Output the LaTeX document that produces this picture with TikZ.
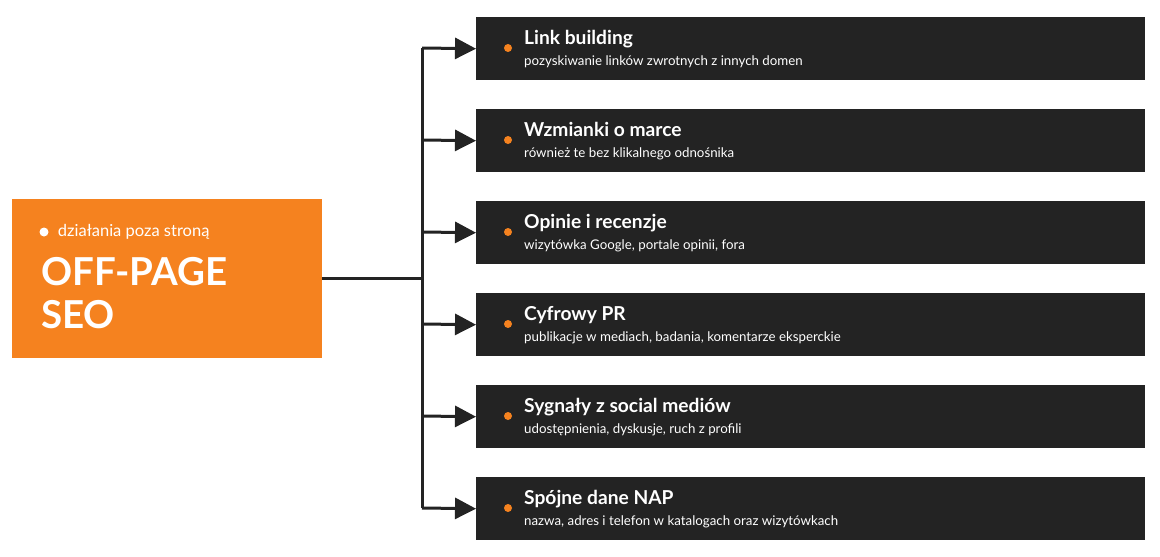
\documentclass[tikz,border=0pt]{standalone}
\usepackage{fontspec}
\setmainfont{Lato}
\usetikzlibrary{positioning, arrows.meta}
\definecolor{seoorange}{HTML}{F5821F}
\definecolor{seodark}{HTML}{232323}

\begin{document}
\begin{tikzpicture}[x=1pt, y=-1pt,
    item/.style={fill=seodark, minimum width=669pt, minimum height=63pt, anchor=north west, inner sep=0pt},
    title/.style={text=white, font=\bfseries\fontsize{19.2}{21}\selectfont, anchor=base west, inner sep=0pt},
    sub/.style={text=white, font=\fontsize{13.3}{15}\selectfont, anchor=base west, inner sep=0pt},
    dot/.style={circle, fill=seoorange, minimum size=8pt, inner sep=0pt},
    branch/.style={line width=3pt, draw=seodark, -{Triangle[length=21pt, width=21pt]}}]
    \useasboundingbox (0,0) rectangle (1160,557);

    % main box
    \node[fill=seoorange, minimum width=310pt, minimum height=159pt, anchor=north west, inner sep=0pt] (main) at (12,199) {};
    \node[circle, fill=white, minimum size=9pt, inner sep=0pt] (mdot) at (44,232) {};
    \node[text=white, font=\fontsize{16.5}{18}\selectfont, anchor=west, inner sep=0pt, right=9pt of mdot] (mlabel) {działania poza stroną};
    \node[text=white, font=\bfseries\fontsize{38.5}{43}\selectfont, align=left, anchor=north west, inner sep=0pt] (mtitle) at (41,257) {OFF-PAGE\\SEO};

    % trunk
    \coordinate (split) at (422,278);
    \coordinate (top) at (422,48);
    \coordinate (bottom) at (422,508);
    \draw[line width=3pt, seodark] (main.east |- split) -- (split);
    \draw[line width=3pt, seodark] (top) -- (bottom);

    \foreach \i/\t/\s in {0/Link building/pozyskiwanie linków zwrotnych z innych domen,
                          1/Wzmianki o marce/również te bez klikalnego odnośnika,
                          2/Opinie i recenzje/{wizytówka Google, portale opinii, fora},
                          3/Cyfrowy PR/{publikacje w mediach, badania, komentarze eksperckie},
                          4/Sygnały z social mediów/{udostępnienia, dyskusje, ruch z profili},
                          5/Spójne dane NAP/{nazwa, adres i telefon w katalogach oraz wizytówkach}} {
        \node[item] (box\i) at (476,17+92*\i) {};
        \node[dot] (dot\i) at (508,48+92*\i) {};
        \node[title] (title\i) at (524,44+92*\i) {\t};
        \node[sub] (sub\i) at (524,65+92*\i) {\s};
        \coordinate (fork\i) at (422,48+92*\i);
        \draw[branch] (fork\i) -- (box\i.west);
    }
\end{tikzpicture}
\end{document}
